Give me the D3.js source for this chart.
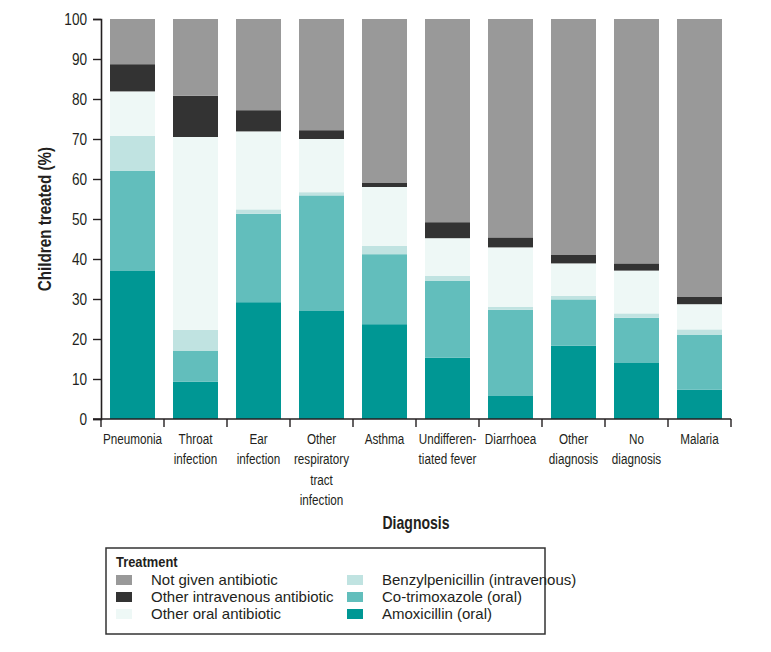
<!DOCTYPE html>
<html>
<head>
<meta charset="utf-8">
<script src="https://cdn.jsdelivr.net/npm/d3@7"></script>
<style>
  body { margin: 0; background: #fff; }
  svg { display: block; }
  .tick text { font-family: "Liberation Sans", sans-serif; }
</style>
</head>
<body>
<div id="chart"></div>
<script>
// Diagnosis categories (label lines)
const diagnoses = [
  ["Pneumonia"],
  ["Throat", "infection"],
  ["Ear", "infection"],
  ["Other", "respiratory", "tract", "infection"],
  ["Asthma"],
  ["Undifferen-", "tiated fever"],
  ["Diarrhoea"],
  ["Other", "diagnosis"],
  ["No", "diagnosis"],
  ["Malaria"]
];

// Series, bottom to top
const treatments = [
  "Amoxicillin (oral)",
  "Co-trimoxazole (oral)",
  "Benzylpenicillin (intravenous)",
  "Other oral antibiotic",
  "Other intravenous antibiotic",
  "Not given antibiotic"
];
const colors = ["#009794", "#62bebc", "#c0e3e1", "#eef8f6", "#333333", "#999999"];

// % of children, one value per diagnosis
const amoxicillin    = [37.0,  9.3, 29.2, 27.0, 23.7, 15.3,  5.9, 18.3, 14.0,  7.3];
const cotrimoxazole  = [25.1,  7.7, 22.1, 28.9, 17.5, 19.3, 21.4, 11.6, 11.3, 13.8];
const benzylpenicil  = [ 8.7,  5.3,  1.1,  0.8,  2.1,  1.2,  0.7,  0.9,  1.1,  1.3];
const otherOral      = [11.1, 48.2, 19.5, 13.3, 14.7,  9.4, 14.9,  8.1, 10.7,  6.3];
const otherIV        = [ 6.8, 10.3,  5.3,  2.2,  1.0,  4.0,  2.5,  2.1,  1.8,  1.8];
const notGiven       = [11.3, 19.2, 22.8, 27.8, 41.0, 50.8, 54.6, 59.0, 61.1, 69.5];

const seriesValues = [amoxicillin, cotrimoxazole, benzylpenicil, otherOral, otherIV, notGiven];
const yTicks = [0, 10, 20, 30, 40, 50, 60, 70, 80, 90, 100];

// legend layout: column 1 then column 2
const legendOrder = [
  [5, 4, 3],
  [2, 1, 0]
];

const width = 771, height = 652;
const margin = {left: 101, right: 40, top: 19, bottom: 233};
const narrow = 0.78; // squeeze Liberation Sans to look condensed
const font = '"Liberation Sans", Arial, sans-serif';
const ink = "#231f20";

const rows = diagnoses.map((d, i) => {
  const r = {key: i};
  treatments.forEach((t, j) => r[t] = seriesValues[j][i]);
  return r;
});

const svg = d3.select("#chart").append("svg")
  .attr("width", width)
  .attr("height", height);

const x = d3.scaleBand()
  .domain(diagnoses.map((d, i) => i))
  .range([margin.left, 731])
  .paddingInner(0.286)
  .paddingOuter(0.143);

const y = d3.scaleLinear()
  .domain([0, 100])
  .range([419, margin.top]);

const stacked = d3.stack().keys(treatments)(rows);

svg.append("g")
  .selectAll("g")
  .data(stacked)
  .join("g")
    .attr("fill", (d, i) => colors[i])
  .selectAll("rect")
  .data(d => d)
  .join("rect")
    .attr("x", d => x(d.data.key))
    .attr("width", x.bandwidth())
    .attr("y", d => y(d[1]))
    .attr("height", d => y(d[0]) - y(d[1]));

// Y axis
const yAxis = svg.append("g")
  .attr("transform", `translate(${margin.left},0)`)
  .call(d3.axisLeft(y).tickValues(yTicks).tickSize(8).tickPadding(4));
yAxis.select(".domain").attr("stroke", ink).attr("stroke-width", 1.6);
yAxis.selectAll(".tick line").attr("stroke", ink).attr("stroke-width", 1.4);
yAxis.selectAll(".tick text")
  .attr("font-size", 17)
  .attr("fill", ink)
  .attr("x", -14 / 0.8)
  .attr("transform", "scale(0.8,1)");

// X axis: line with ticks at band boundaries
const xg = svg.append("g");
const bounds = d3.range(diagnoses.length + 1).map(i => margin.left + i * x.step());
xg.append("line")
  .attr("x1", margin.left - 8).attr("x2", 731)
  .attr("y1", y(0)).attr("y2", y(0))
  .attr("stroke", ink).attr("stroke-width", 1.6);
xg.selectAll("line.tk")
  .data(bounds)
  .join("line")
    .attr("class", "tk")
    .attr("x1", d => d).attr("x2", d => d)
    .attr("y1", y(0)).attr("y2", y(0) + 8)
    .attr("stroke", ink).attr("stroke-width", 1.4);

xg.selectAll("text.cat")
  .data(diagnoses)
  .join("text")
    .attr("class", "cat")
    .attr("text-anchor", "middle")
    .attr("font-family", font)
    .attr("font-size", 15)
    .attr("fill", ink)
    .attr("transform", (d, i) => `translate(${x(i) + x.bandwidth() / 2},444) scale(${narrow},1)`)
  .selectAll("tspan")
  .data(d => d)
  .join("tspan")
    .attr("x", 0)
    .attr("y", (d, i) => i * 20.5)
    .text(d => d);

// Axis titles
svg.append("text")
  .attr("transform", `translate(${(margin.left + 731) / 2},529) scale(0.78,1)`)
  .attr("text-anchor", "middle")
  .attr("font-family", font)
  .attr("font-weight", "bold")
  .attr("font-size", 18)
  .attr("fill", ink)
  .text("Diagnosis");

svg.append("text")
  .attr("transform", `translate(51,${(y(0) + y(100)) / 2}) rotate(-90) scale(0.8,1)`)
  .attr("text-anchor", "middle")
  .attr("font-family", font)
  .attr("font-weight", "bold")
  .attr("font-size", 19)
  .attr("fill", ink)
  .text("Children treated (%)");

// Legend
const legend = svg.append("g");
legend.append("rect")
  .attr("x", 106).attr("y", 548)
  .attr("width", 439).attr("height", 86)
  .attr("fill", "#fff")
  .attr("stroke", "#333").attr("stroke-width", 1.5);
legend.append("text")
  .attr("transform", "translate(116,567) scale(0.86,1)")
  .attr("font-family", font)
  .attr("font-weight", "bold")
  .attr("font-size", 15)
  .attr("fill", ink)
  .text("Treatment");

const colX = [[116, 151], [347, 382]];
legendOrder.forEach((col, c) => {
  col.forEach((s, r) => {
    const yy = 580 + r * 17;
    legend.append("rect")
      .attr("x", colX[c][0]).attr("y", yy - 5)
      .attr("width", 16).attr("height", 10)
      .attr("fill", colors[s]);
    legend.append("text")
      .attr("x", colX[c][1]).attr("y", yy + 5)
      .attr("font-family", font)
      .attr("font-size", 15)
      .attr("fill", ink)
      .text(treatments[s]);
  });
});
</script>
</body>
</html>
